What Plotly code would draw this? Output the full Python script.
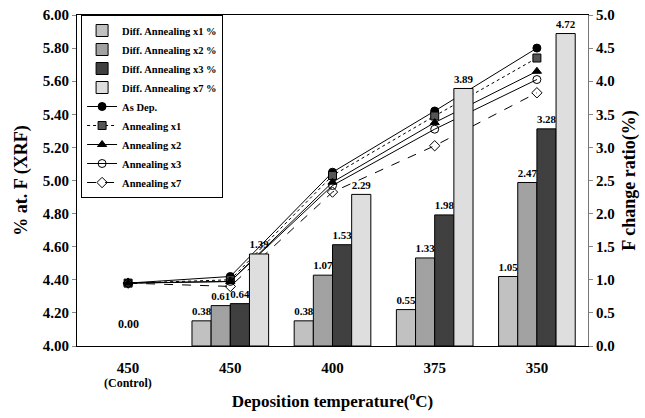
import plotly.graph_objects as go

# ---- data ----
categories = ["450", "450", "400", "375", "350"]
control_note = "(Control)"
cat_idx = [0, 1, 2, 3, 4]

as_dep = [4.38, 4.42, 5.05, 5.42, 5.80]
ann_x1 = [4.38, 4.40, 5.03, 5.39, 5.74]
ann_x2 = [4.38, 4.39, 4.99, 5.35, 5.66]
ann_x3 = [4.38, 4.39, 4.97, 5.31, 5.61]
ann_x7 = [4.38, 4.36, 4.93, 5.21, 5.53]

bar_idx = [1, 2, 3, 4]
diff_x1 = [0.38, 0.38, 0.55, 1.05]
diff_x2 = [0.61, 1.07, 1.33, 2.47]
diff_x3 = [0.64, 1.53, 1.98, 3.28]
diff_x7 = [1.39, 2.29, 3.89, 4.72]
control_ratio = 0.00

FONT = "Liberation Serif"

fig = go.Figure()

bar_styles = [
    ("Diff. Annealing x1 %", diff_x1, "#d0d0d0", "#808080"),
    ("Diff. Annealing x2 %", diff_x2, "#b0b0b0", "#606060"),
    ("Diff. Annealing x3 %", diff_x3, "#484848", "#1a1a1a"),
    ("Diff. Annealing x7 %", diff_x7, "#ececec", "#a0a0a0"),
]
for name, vals, bg, fg in bar_styles:
    fig.add_trace(go.Bar(
        x=bar_idx, y=vals, name=name, yaxis="y2",
        marker=dict(color=bg, line=dict(color="black", width=1),
                    pattern=dict(shape=".", fgcolor=fg, bgcolor=bg, size=2, solidity=0.4)),
        text=[f"{v:.2f}" for v in vals], textposition="outside",
        textfont=dict(family=FONT, size=12, color="black", weight="bold"),
        cliponaxis=False,
    ))

line_styles = [
    ("As Dep.", as_dep, "circle", "black", "solid"),
    ("Annealing x1", ann_x1, "square", "#555555", "dot"),
    ("Annealing x2", ann_x2, "triangle-up", "black", "solid"),
    ("Annealing x3", ann_x3, "circle-open", "black", "solid"),
    ("Annealing x7", ann_x7, "diamond-open", "black", "dash"),
]
for name, vals, sym, col, dash in line_styles:
    fig.add_trace(go.Scatter(
        x=cat_idx, y=vals, name=name, yaxis="y", mode="lines+markers",
        line=dict(color="black", width=1, dash=dash),
        marker=dict(symbol=sym, size=8, color=col, line=dict(color="black", width=1)),
    ))

fig.add_annotation(x=0, y=control_ratio, yref="y2", xref="x", text=f"{control_ratio:.2f}",
                   showarrow=False, yshift=22,
                   font=dict(family=FONT, size=12, color="black", weight="bold"))
fig.add_annotation(x=0, y=0, yref="paper", xref="x", text=control_note,
                   showarrow=False, yanchor="middle", yshift=-37,
                   font=dict(family=FONT, size=12, color="black", weight="bold"))

fig.update_layout(
    width=645, height=418,
    margin=dict(l=77, r=57, t=15, b=72),
    paper_bgcolor="white", plot_bgcolor="white",
    font=dict(family=FONT, size=14, color="black", weight="bold"),
    barmode="group", bargap=0.25, bargroupgap=0,
    showlegend=True,
    legend=dict(x=0.008, y=1.0, xanchor="left", yanchor="top",
                bgcolor="white", bordercolor="black", borderwidth=1,
                font=dict(family=FONT, size=10.5, color="black", weight="bold"),
                tracegroupgap=0, itemwidth=30),
    xaxis=dict(range=[-0.5, 4.5], tickvals=cat_idx, ticktext=categories,
               showline=True, linecolor="black", linewidth=1, mirror=True,
               showgrid=False, ticks="", ticklabelstandoff=8, automargin=False,
               tickfont=dict(family=FONT, size=15, weight="bold"),
               title=dict(text="Deposition temperature(<sup>o</sup>C)", standoff=20,
                          font=dict(family=FONT, size=17, weight="bold"))),
    yaxis=dict(range=[4.0, 6.0], dtick=0.2, tickformat=".2f", automargin=False,
               showline=True, linecolor="black", linewidth=1,
               showgrid=False, zeroline=False, ticks="outside", ticklen=4, tickcolor="#888",
               tickfont=dict(family=FONT, size=15, weight="bold"),
               title=dict(text="% at. F (XRF)", standoff=10,
                          font=dict(family=FONT, size=18, weight="bold"))),
    yaxis2=dict(range=[0, 5.0], dtick=0.5, tickformat=".1f", overlaying="y", side="right",
                automargin=False,
                showline=True, linecolor="#777", linewidth=1,
                showgrid=False, zeroline=False, ticks="outside", ticklen=4, tickcolor="#888",
                tickfont=dict(family=FONT, size=15, weight="bold"),
                title=dict(text="F change ratio(%)", standoff=8,
                           font=dict(family=FONT, size=18, weight="bold"))),
)

fig.write_html("out.html")
